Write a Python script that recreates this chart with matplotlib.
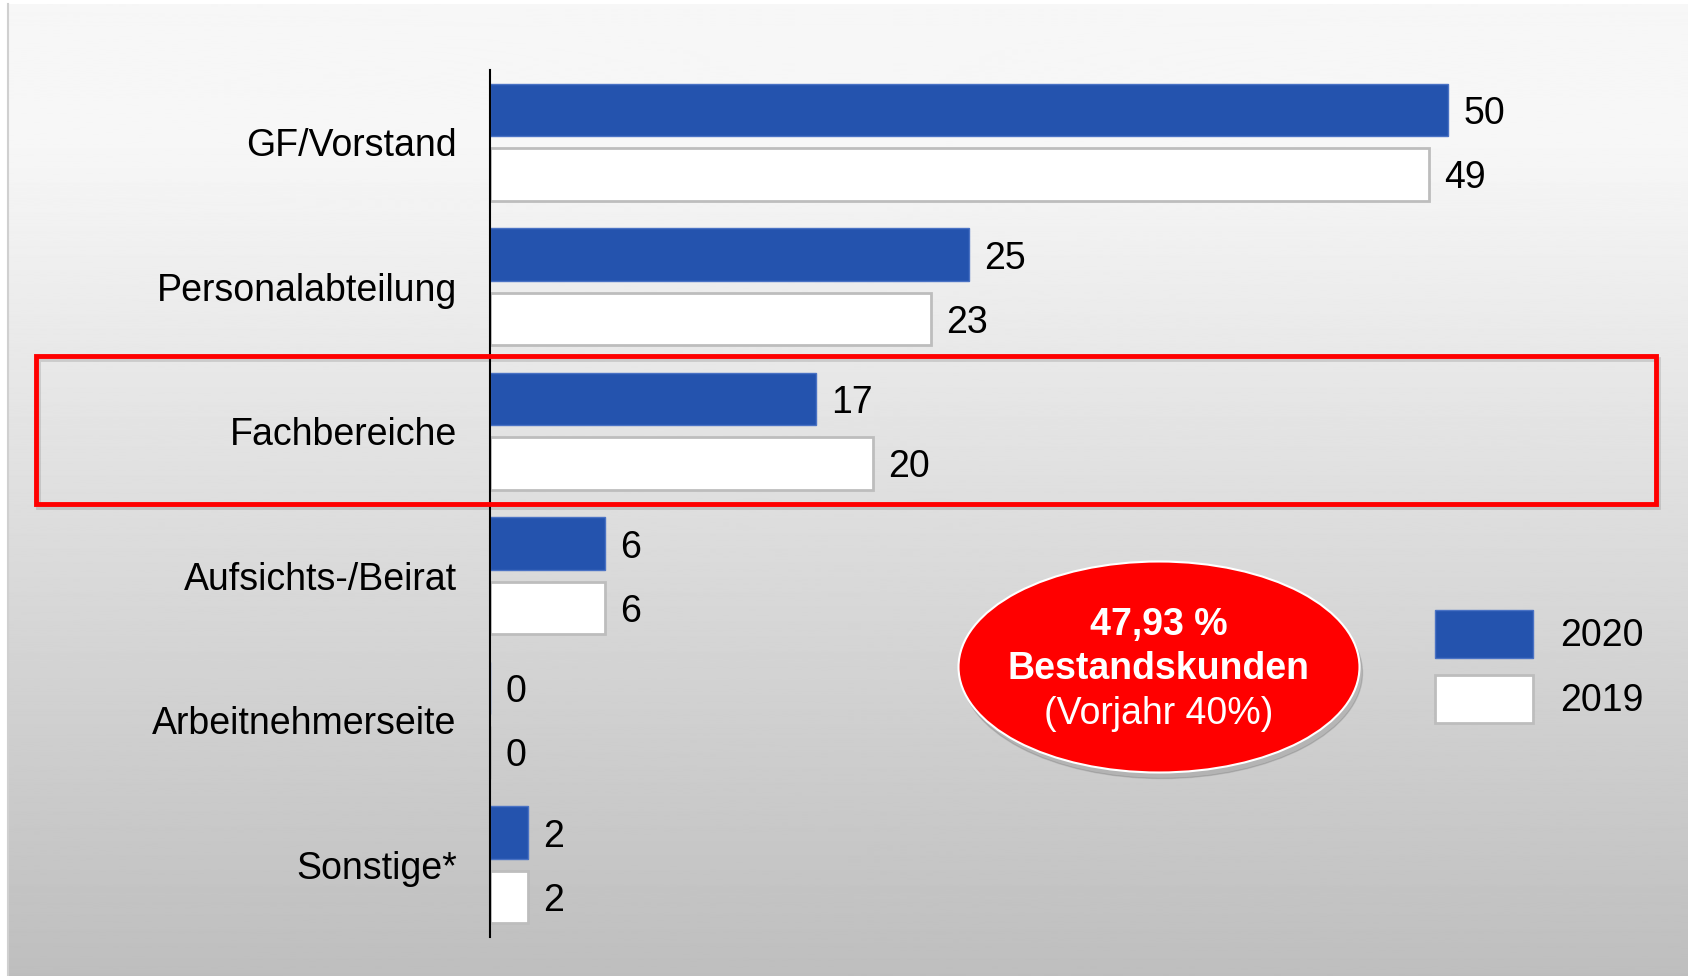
import numpy as np
import matplotlib
matplotlib.use("Agg")
import matplotlib.pyplot as plt
from matplotlib.patches import Ellipse, Rectangle

plt.rcParams['font.family'] = ['Liberation Sans', 'DejaVu Sans']

# data
categories = ['GF/Vorstand', 'Personalabteilung', 'Fachbereiche',
              'Aufsichts-/Beirat', 'Arbeitnehmerseite', 'Sonstige*']
values_2020 = [50, 25, 17, 6, 0, 2]
values_2019 = [49, 23, 20, 6, 0, 2]
series_labels = ['2020', '2019']
badge_lines = ['47,93 %', 'Bestandskunden', '(Vorjahr 40%)']

W, H = 1688, 976
BLUE = '#2453ae'
FS = 27

fig = plt.figure(figsize=(W / 100, H / 100), dpi=100, facecolor='white')

# grey gradient panel behind everything
bg = fig.add_axes([8 / W, 0, 1 - 8 / W, 1 - 4 / H], zorder=-1)
rows = np.arange(H)
shade = np.interp(rows, [0, 150, 976], [247, 246, 190])
bg.imshow(shade[:, None], aspect='auto', cmap='gray', vmin=0, vmax=255,
          extent=[0, 1, 0, 1], origin='upper')
bg.axis('off')
fig.add_artist(plt.Line2D([8 / W, 8 / W], [0, 1 - 4 / H], color='#d0d0d0',
                          lw=1.5, transform=fig.transFigure))

# main bar chart
ax = fig.add_axes([490 / W, 1 - 937 / H, (1640 - 490) / W, (937 - 70) / H])
ax.set_facecolor('none')
y = np.arange(len(categories))
off, bh = 0.223, 0.364
b20 = ax.barh(y - off, values_2020, height=bh, color=BLUE, edgecolor='#4a72c4', lw=1)
b19 = ax.barh(y + off, values_2019, height=bh, color='white', edgecolor='#bdbdbd', lw=2)

for bars, vals in ((b20, values_2020), (b19, values_2019)):
    for rect, v in zip(bars, vals):
        ax.annotate(str(v), (v, rect.get_y() + rect.get_height() / 2),
                    xytext=(11, 0), textcoords='offset points',
                    ha='left', va='center_baseline', fontsize=FS)

ax.set_xlim(0, 60)
ax.set_ylim(len(categories) - 0.5, -0.5)
ax.set_yticks(y)
ax.set_yticklabels(categories, fontsize=FS)
ax.set_xticks([])
ax.tick_params(axis='y', length=0, pad=24)
for s in ('top', 'right', 'bottom'):
    ax.spines[s].set_visible(False)
ax.spines['left'].set_linewidth(1.5)
ax.spines['left'].set_color('black')

ax.legend([b20, b19], series_labels, loc='upper left',
          bbox_to_anchor=(1435 / W, 1 - 610 / H), bbox_transform=fig.transFigure,
          frameon=False, fontsize=FS, handlelength=2.6, handleheight=1.6,
          labelspacing=0.45, handletextpad=0.75, borderpad=0, borderaxespad=0)

# red highlight frame around Fachbereiche
rx, ry, rw, rh = 35.5 / W, 1 - 504 / H, 1620 / W, 148 / H
fig.add_artist(Rectangle((rx + 2 / W, ry - 3 / H), rw, rh, fill=False,
                         ec=(0, 0, 0, 0.12), lw=3.5, transform=fig.transFigure))
fig.add_artist(Rectangle((rx, ry), rw, rh, fill=False, ec='#ff0000', lw=3.5,
                         transform=fig.transFigure))

# red badge
cx, cy, ew, eh = 1159 / W, 1 - 667 / H, 401 / W, 211 / H
fig.add_artist(Ellipse((cx + 3 / W, cy - 6 / H), ew, eh, color=(0, 0, 0, 0.12),
                       transform=fig.transFigure))
fig.add_artist(Ellipse((cx, cy), ew, eh, fc='#ff0000', ec='white', lw=1.5,
                       transform=fig.transFigure))
fig.text(cx, 1 - 625 / H, badge_lines[0], ha='center', va='center',
         fontsize=FS, fontweight='bold', color='white')
fig.text(cx, 1 - 669 / H, badge_lines[1], ha='center', va='center',
         fontsize=FS, fontweight='bold', color='white')
fig.text(cx, 1 - 714 / H, badge_lines[2], ha='center', va='center',
         fontsize=FS, color='white')

fig.savefig('out.png', dpi=100)
